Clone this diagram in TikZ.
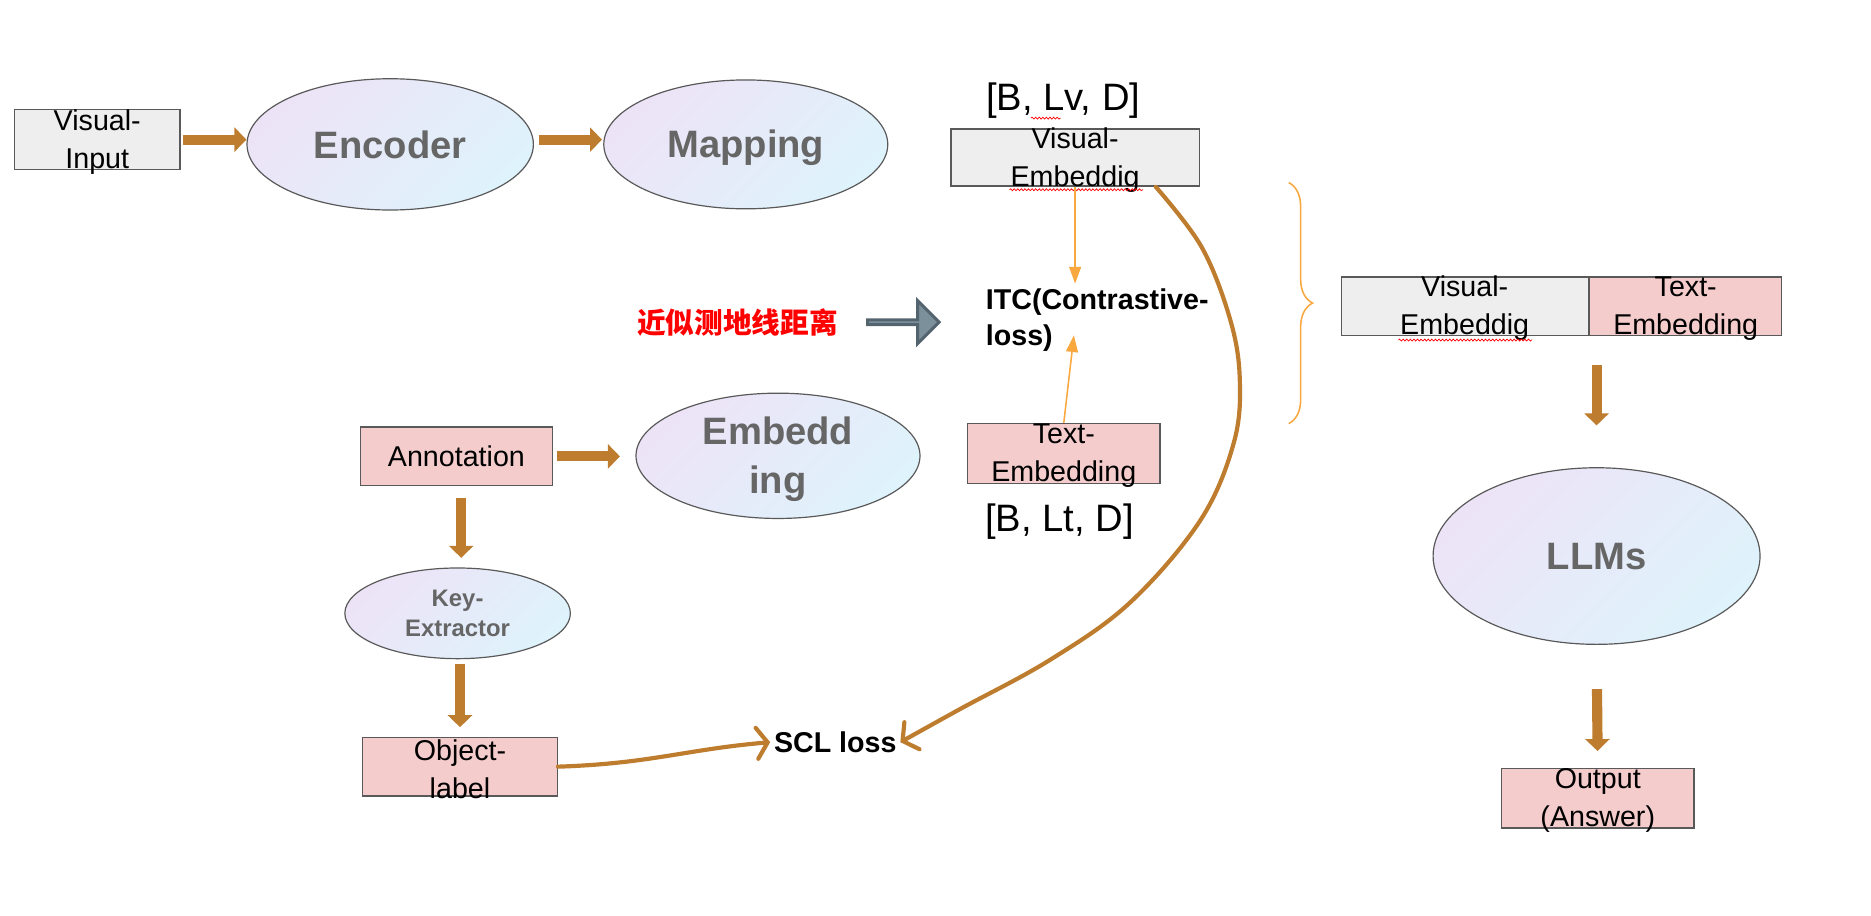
\documentclass[tikz,border=0pt]{standalone}
\usepackage{fontspec}
\setmainfont{Liberation Sans}
\newfontfamily\cjkfont{Noto Sans CJK SC}
\usetikzlibrary{arrows.meta,shapes.geometric,shapes.arrows,decorations.pathreplacing,decorations.pathmorphing}
\definecolor{flow}{RGB}{190,124,46}
\definecolor{itcline}{RGB}{248,168,62}
\definecolor{boxline}{RGB}{89,89,89}
\definecolor{boxgrey}{RGB}{238,238,238}
\definecolor{boxpink}{RGB}{244,204,204}
\definecolor{lav}{RGB}{237,227,247}
\definecolor{cya}{RGB}{222,243,251}
\definecolor{blobtext}{RGB}{102,102,102}
\definecolor{geofill}{RGB}{124,144,155}
\definecolor{geoline}{RGB}{84,100,110}

\begin{document}
\begin{tikzpicture}[x=1pt,y=-1pt,
    box/.style={draw=boxline,line width=1.2pt,minimum width=161pt,minimum height=50pt,inner sep=0pt},
    greybox/.style={box,fill=boxgrey},
    pinkbox/.style={box,fill=boxpink},
    boxtext/.style={align=center,inner sep=0pt,font=\fontsize{24}{32}\selectfont},
    blob/.style={ellipse,draw=boxline,line width=1pt,top color=lav,bottom color=cya,shading angle=45,
        inner sep=0pt,align=center,text=blobtext,font=\bfseries\fontsize{32}{38}\selectfont},
    fat/.style={draw=flow,line width=8.5pt,-{Triangle[width=20pt,length=10pt]}},
    thin/.style={draw=itcline,line width=1.3pt,-{Triangle[width=10pt,length=14pt]}},
    hand/.style={draw=flow,line width=3.5pt,line cap=round,line join=round,-{Straight Barb[length=9pt,width=26pt,line cap=round]}},
    squiggle/.style={draw=red,line width=0.6pt,decorate,decoration={snake,segment length=3pt,amplitude=0.8pt}}
]
    \useasboundingbox (0,0) rectangle (1568,767);

    % top row
    \node[greybox,minimum width=139pt] (vin) at (81.5,117) {};
    \node[boxtext] (vintext) at ([yshift=-2pt]vin.center) {Visual-\\Input};
    \node[blob,minimum width=240pt,minimum height=110pt] (enc) at (327,121) {Encoder};
    \node[blob,minimum width=238pt,minimum height=108pt] (map) at (625,121) {};
    \node[inner sep=0pt,text=blobtext,font=\bfseries\fontsize{32}{38}\selectfont] (maptext) at ([yshift=-3pt]map.center) {Mapping};
    \draw[fat,shorten <=2pt] (vin.east) -- (vin.east -| enc.west);
    \draw[fat,shorten <=4pt,shorten >=1pt] (enc.east |- vin.east) -- (vin.east -| map.west);

    % visual embedding and ITC
    \node[font=\fontsize{32}{38}\selectfont,inner sep=0pt] (lvdim) at (891,84) {[B, Lv, D]};
    \draw[squiggle] (864,99) -- (889,99);
    \node[greybox,minimum width=208pt,minimum height=48pt] (ve) at (901,132) {};
    \node[boxtext] (vetext) at ([yshift=-2pt]ve.center) {Visual-\\Embeddig};
    \draw[squiggle] (846,159) -- (958,159);
    \node[anchor=west,align=left,inner sep=0pt,font=\bfseries\fontsize{24}{30}\selectfont] (itc) at (826,268) {ITC(Contrastive-\\loss)};
    \coordinate (itcin) at (900,281);
    \draw[thin] (ve.south) -- ([yshift=4pt]ve.south |- itc.north);

    \node[pinkbox] (te) at (891.5,380) {};
    \node[boxtext] (tetext) at ([yshift=-2pt]te.center) {Text-\\Embedding};
    \draw[thin] (te.north) -- (itcin);
    \node[font=\fontsize{32}{38}\selectfont,inner sep=0pt] (ltdim) at (888,437) {[B, Lt, D]};

    % geodesic hint
    \node[text=red,inner sep=0pt,font=\cjkfont\bfseries\fontsize{24}{28}\selectfont] (geo) at (618,270) {近似测地线距离};
    \node[single arrow,draw=geoline,fill=geofill,line width=2.5pt,minimum height=60pt,minimum width=36pt,
        single arrow head extend=10pt,inner sep=0pt] (geoarrow) at (756,270) {};

    % joint embedding and LLM
    \draw[itcline,line width=1.3pt,decorate,decoration={brace,amplitude=20pt}] (1080,153) -- (1080,355);
    \node[greybox,minimum width=207pt,minimum height=49pt] (cve) at (1227.5,256.5) {};
    \node[boxtext] (cvetext) at ([yshift=-2pt]cve.center) {Visual-\\Embeddig};
    \draw[squiggle] (1172,285) -- (1284,285);
    \node[pinkbox,minimum height=49pt,anchor=west] (cte) at (cve.east) {};
    \node[boxtext] (ctetext) at ([yshift=-2pt]cte.center) {Text-\\Embedding};
    \node[blob,minimum width=274pt,minimum height=148pt] (llm) at (1338,466) {LLMs};
    \node[pinkbox] (out) at (1339,669) {};
    \node[boxtext] (outtext) at ([yshift=-2pt]out.center) {Output\\(Answer)};
    \draw[fat,shorten <=24pt,shorten >=35pt] (llm.north |- cve.south) -- (llm.north);
    \draw[fat,shorten <=37pt,shorten >=14pt] (llm.south) -- (out.north);

    % annotation branch
    \node[pinkbox,minimum height=49pt] (ann) at (382.5,382.5) {};
    \node[boxtext] (anntext) at (ann) {Annotation};
    \node[blob,minimum width=238pt,minimum height=105pt] (emb) at (652,382) {};
    \node[inner sep=0pt,align=center,text=blobtext,font=\bfseries\fontsize{32}{41}\selectfont] (embtext) at ([yshift=-3pt]emb.center) {Embedd\\ing};
    \node[blob,minimum width=189pt,minimum height=76pt,font=\bfseries\fontsize{20}{25}\selectfont] (key) at (383.5,514) {Key-\\Extractor};
    \node[pinkbox,minimum width=163pt,minimum height=49pt] (obj) at (385.5,642.5) {};
    \node[boxtext] (objtext) at ([yshift=-2pt]obj.center) {Object-\\label};
    \draw[fat,shorten <=3pt,shorten >=13pt] (ann.east) -- (ann.east -| emb.west);
    \draw[fat,shorten <=10pt,shorten >=8pt] ([xshift=4pt]ann.south) -- ([xshift=4pt]ann.south |- key.north);
    \draw[fat,shorten <=4pt,shorten >=8pt] ([xshift=2pt]key.south) -- ([xshift=2pt]key.south |- obj.north);

    % SCL loss
    \node[inner sep=3pt,font=\bfseries\fontsize{24}{28}\selectfont] (scl) at (700,622) {SCL loss};
    \draw[hand] (obj.east) .. controls (545,640) and (575,628) .. (scl.west);
    \draw[hand] plot[smooth,tension=0.6] coordinates {(ve.-20) (1007,207) (1031,268) (1039,318) (1034,371)
        (1006,436) (947,505) (880,553) (805,594) (scl.east)};
\end{tikzpicture}
\end{document}
